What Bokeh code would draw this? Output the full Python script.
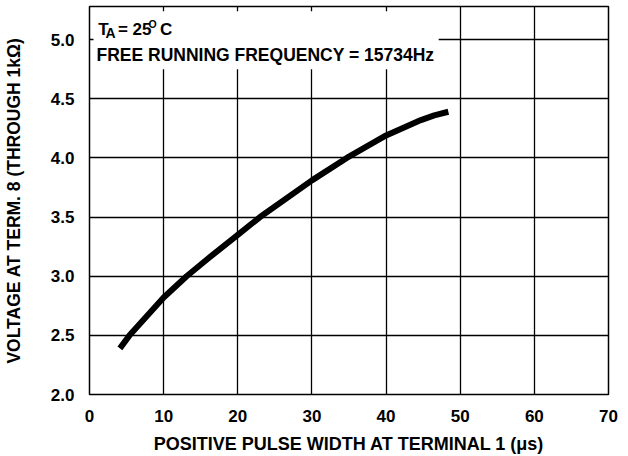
from bokeh.plotting import figure
from bokeh.models import Range1d, FixedTicker, CustomJSTickFormatter
from bokeh.core.properties import value
from bokeh.embed import file_html
from bokeh.resources import INLINE

# data
x_ticks = [0, 10, 20, 30, 40, 50, 60, 70]
y_ticks = [2.0, 2.5, 3.0, 3.5, 4.0, 4.5, 5.0]
pulse_width_us = [4.1, 5.4, 10.0, 13.1, 16.0, 20.0, 23.0, 30.0, 34.7, 40.0, 44.7, 46.5, 48.4]
voltage_v = [2.39, 2.50, 2.82, 3.00, 3.15, 3.35, 3.50, 3.81, 4.00, 4.19, 4.32, 4.36, 4.39]

FONT = "Liberation Sans"

p = figure(width=620, height=456, output_backend="svg", toolbar_location=None,
           x_range=Range1d(0, 70), y_range=Range1d(2.0, 5.28),
           min_border_left=88, min_border_right=12, min_border_top=6, min_border_bottom=58)
p.background_fill_color = "white"
p.border_fill_color = "white"
p.outline_line_color = "black"
p.outline_line_width = 1.5

for ax in (p.xaxis[0], p.yaxis[0]):
    ax.major_tick_line_color = None
    ax.minor_tick_line_color = None
    ax.axis_line_color = None
    ax.major_label_text_font = FONT
    ax.major_label_text_font_style = "bold"
    ax.major_label_text_font_size = "17px"
    ax.major_label_text_color = "black"
    ax.axis_label_text_font = FONT
    ax.axis_label_text_font_style = "bold"
    ax.axis_label_text_color = "black"
    ax.major_label_standoff = 9

p.xaxis.axis_label_text_font_size = "18px"
p.yaxis.axis_label_text_font_size = "17.5px"
p.xaxis.ticker = FixedTicker(ticks=x_ticks)
p.yaxis.ticker = FixedTicker(ticks=y_ticks)
p.yaxis.formatter = CustomJSTickFormatter(code="return tick.toFixed(1);")
p.xaxis.axis_label = "POSITIVE PULSE WIDTH AT TERMINAL 1 (\u03bcs)"
p.yaxis.axis_label = "VOLTAGE AT TERM. 8 (THROUGH 1k\u03a9)"
p.xaxis.axis_label_standoff = 9
p.yaxis.axis_label_standoff = 24

for g in (p.xgrid[0], p.ygrid[0]):
    g.grid_line_color = "black"
    g.grid_line_width = 1.3
p.xgrid.ticker = FixedTicker(ticks=x_ticks)
p.ygrid.ticker = FixedTicker(ticks=y_ticks)

# white annotation box
p.quad(left=[0.54], right=[47.1], bottom=[4.75], top=[5.24],
       fill_color="white", line_color=None)

# curve
p.line(pulse_width_us, voltage_v, line_color="black", line_width=6, line_cap="butt", line_join="round")

# annotation texts
def txt(x, y, s, size):
    p.text(x=[x], y=[y], text=[s], text_font=value(FONT), text_font_style="bold",
           text_font_size=size, text_baseline="alphabetic", text_color="black")

txt(1.17, 5.083, "T", "17px")
txt(2.15, 5.052, "A", "14px")
txt(3.83, 5.083, "= 25", "17px")
txt(7.95, 5.13, "O", "10.5px")
txt(9.5, 5.083, "C", "17px")
txt(0.94, 4.868, "FREE RUNNING FREQUENCY = 15734Hz", "17.5px")

open("out.html", "w").write(file_html(p, INLINE))
